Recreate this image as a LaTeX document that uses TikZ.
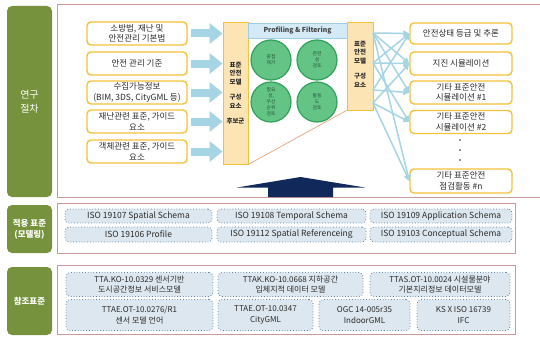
\documentclass[tikz,border=0pt]{standalone}
\usepackage{fontspec}
\setmainfont{Noto Sans CJK KR}
\usetikzlibrary{arrows.meta}
\definecolor{lgreen}{HTML}{76923C}
\definecolor{pinkline}{HTML}{C99A9C}
\definecolor{gold}{HTML}{F3C13A}
\definecolor{tanfill}{HTML}{FCE4B4}
\definecolor{hdrfill}{HTML}{D4EAF6}
\definecolor{hdrline}{HTML}{9ECDE6}
\definecolor{cgreen}{HTML}{63C486}
\definecolor{cgreenline}{HTML}{2FA15A}
\definecolor{cgreentext}{HTML}{2E6A45}
\definecolor{arrblue}{HTML}{A5D4E4}
\definecolor{navy}{HTML}{10295A}
\definecolor{orangeln}{HTML}{E8A27A}
\definecolor{stdfill}{HTML}{DCE7EF}
\definecolor{stdline}{HTML}{5F82A0}
\definecolor{darktext}{HTML}{2B2B2B}
\begin{document}
\begin{tikzpicture}[x=1pt,y=-1pt,
  sidelabel/.style={fill=lgreen, rounded corners=5pt, text=white, align=center, inner sep=0, minimum width=45pt, font=\fontsize{8.5}{11}\selectfont\bfseries},
  frameln/.style={draw=pinkline, line width=1pt},
  inbox/.style={draw=gold, line width=1.4pt, rounded corners=4pt, fill=white, minimum width=100pt, minimum height=23pt, inner sep=0, align=center, font=\fontsize{8.5}{10.5}\selectfont, text=darktext},
  outbox/.style={inbox, minimum width=102pt},
  column/.style={draw=gold, fill=tanfill, line width=0.8pt, inner sep=0},
  coltext/.style={font=\fontsize{6.5}{8.5}\selectfont\bfseries, align=center, inner sep=0, text=darktext},
  header/.style={draw=hdrline, fill=hdrfill, line width=0.8pt, minimum width=99pt, minimum height=15pt, inner sep=0, font=\fontsize{6.8}{8}\selectfont\bfseries, text=black!75},
  circ/.style={circle, draw=cgreenline, fill=cgreen, line width=1.2pt, minimum size=40pt, inner sep=0, font=\fontsize{4.8}{6}\selectfont, text=cgreentext!80!black, align=center},
  blockarrow/.style={draw=arrblue, line width=8pt, -{Triangle[length=13pt,width=20pt]}},
  fan/.style={draw=arrblue, line width=1.5pt, -{Triangle[length=6pt,width=6pt]}},
  std/.style={draw=stdline, dotted, fill=stdfill, rounded corners=4pt, line width=0.8pt, inner sep=0, align=center, text=darktext},
  stdA/.style={std, font=\fontsize{8.5}{10}\selectfont},
  stdB/.style={std, font=\fontsize{8}{10.5}\selectfont},
  dot/.style={circle, fill=darktext, inner sep=0, minimum size=1.6pt}
]
\useasboundingbox (0,0) rectangle (540,337);

% side labels
\node[sidelabel, minimum height=191pt, font=\fontsize{10}{14}\selectfont] (lab1) at (29.5,101.5) {연구\\절차};
\node[sidelabel, minimum height=48pt] (lab2) at (29.5,229) {적용 표준\\(모델링)};
\node[sidelabel, minimum height=68pt] (lab3) at (29.5,301) {참조표준};

% frames
\draw[frameln] (540,5) -| (57,197) -- (540,197);
\draw[frameln] (57,203) rectangle (515,253);
\draw[frameln] (57,265) rectangle (515,334);

% left input boxes
\node[inbox] (a1) at (137,33.5) {소방법, 재난 및\\안전관리 기본법};
\node[inbox] (a2) at (137,63.5) {안전 관리 기준};
\node[inbox] (a3) at (137,92.5) {수집가능정보\\(BIM, 3DS, CityGML 등)};
\node[inbox] (a4) at (137,121.5) {재난관련 표준, 가이드\\요소};
\node[inbox] (a5) at (137,151.5) {객체관련 표준, 가이드\\요소};

% column 1
\node[column, minimum width=25pt, minimum height=142pt] (c1) at (235.5,93) {};
\node[coltext] (c1t) at (235.5,93) {표준\\안전\\모델\\[7pt]구성\\요소\\[7pt]후보군};

% header and column 2
\node[header] (hdr) at (297.5,30.5) {Profiling \& Filtering};
\node[column, minimum width=26pt, minimum height=88pt] (c2) at (360,66) {};
\node[coltext] (c2t) at (360,64) {표준\\안전\\모델\\[7pt]구성\\요소};

% circles
\node[circ] (k1) at (271,60) {중첩\\제거};
\node[circ] (k2) at (317,60) {관련\\성\\검토};
\node[circ] (k3) at (271,102) {필요\\성,\\우선\\순위\\검토};
\node[circ] (k4) at (317,102) {활용\\도\\검토};

% orange projection line
\draw[orangeln, line width=0.7pt] (c1.south east) -- (c2.south west);

% block arrows
\foreach \i in {1,...,5}{
  \draw[blockarrow] ([xshift=3pt]a\i.east) -- (a\i.east -| c1.west);
}

% right output boxes
\node[outbox, minimum height=21pt] (t1) at (461,33.5) {안전상태 등급 및 추론};
\node[outbox] (t2) at (461,63.5) {지진 시뮬레이션};
\node[outbox] (t3) at (461,92.5) {기타 표준안전\\시뮬레이션 \#1};
\node[outbox] (t4) at (461,122) {기타 표준안전\\시뮬레이션 \#2};
\node[outbox, minimum height=24pt] (t5) at (461,181) {기타 표준안전\\점검활동 \#n};
\node[dot] (d1) at (460,140) {};
\node[dot] (d2) at (460,150) {};
\node[dot] (d3) at (460,160) {};

% fan connectors
\coordinate (s1) at (373,33);
\coordinate (s2) at (373,63);
\coordinate (s3) at (373,90);
\coordinate (s4) at (373,103);
\draw[fan] (s1) -- (t1.west);
\draw[fan] (s1) -- (t2.west);
\draw[fan] (s1) -- (t3.west);
\draw[fan] (s1) -- (t5.west);
\draw[fan] (s2) -- (t1.west);
\draw[fan] (s2) -- (t2.west);
\draw[fan] (s2) -- (t4.west);
\draw[fan] (s3) -- (t1.west);
\draw[fan] (s3) -- (t3.west);
\draw[fan] (s4) -- (t2.west);
\draw[fan] (s4) -- (t4.west);
\draw[fan] (s4) -- (t5.west);

% big navy arrow
\fill[navy] (268,197) -- (268,187.5) -- (237,187.5) -- (300.5,177) -- (365,187.5) -- (333,187.5) -- (333,197) -- cycle;

% modelling standards
\node[stdA, minimum width=147pt, minimum height=14pt] (m1) at (138.5,216) {ISO 19107 Spatial Schema};
\node[stdA, minimum width=149pt, minimum height=14pt] (m2) at (291.5,216) {ISO 19108 Temporal Schema};
\node[stdA, minimum width=142pt, minimum height=14pt] (m3) at (441,216) {ISO 19109 Application Schema};
\node[stdA, minimum width=147pt, minimum height=15pt] (m4) at (138.5,234.5) {ISO 19106 Profile};
\node[stdA, minimum width=149pt, minimum height=15pt] (m5) at (291.5,234.5) {ISO 19112 Spatial Referenceing};
\node[stdA, minimum width=142pt, minimum height=15pt] (m6) at (441,234.5) {ISO 19103 Conceptual Schema};

% reference standards
\node[stdB, minimum width=147pt, minimum height=24pt] (r1) at (139.5,284.5) {TTA.KO-10.0329 센서기반\\도시공간정보 서비스모델};
\node[stdB, minimum width=145pt, minimum height=24pt] (r2) at (290.5,284.5) {TTAK.KO-10.0668 지하공간\\입체지적 데이터 모델};
\node[stdB, minimum width=140pt, minimum height=24pt] (r3) at (440,284.5) {TTAS.OT-10.0024 시설물분야\\기본지리정보 데이터모델};
\node[stdB, minimum width=147pt, minimum height=31pt] (r4) at (139.5,315) {TTAE.OT-10.0276/R1\\센서 모델 언어};
\node[stdB, minimum width=95pt, minimum height=31pt] (r5) at (265.5,315) {TTAE.OT-10.0347\\CityGML};
\node[stdB, minimum width=91pt, minimum height=31pt] (r6) at (364.5,315) {OGC 14-005r35\\IndoorGML};
\node[stdB, minimum width=93pt, minimum height=31pt] (r7) at (463.5,315) {KS X ISO 16739\\IFC};
\end{tikzpicture}
\end{document}
